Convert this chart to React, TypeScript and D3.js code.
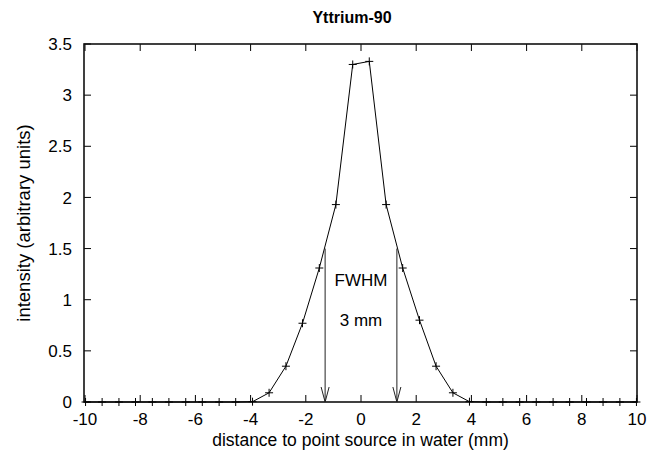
import React, { useEffect, useRef } from 'react';
import * as d3 from 'd3';

// distance (mm) of each sample, intensity (arbitrary units)
const distances = [
  -9.98, -9.38, -8.77, -8.17, -7.56, -6.96, -6.35, -5.75, -5.14, -4.54,
  -3.93, -3.33, -2.72, -2.12, -1.51, -0.91, -0.3,
  0.3, 0.91, 1.51, 2.12, 2.72, 3.33, 3.93,
  4.54, 5.14, 5.75, 6.35, 6.96, 7.56, 8.17, 8.77, 9.38, 9.98,
];
const intensity = [
  0, 0, 0, 0, 0, 0, 0, 0, 0, 0,
  0.003, 0.09, 0.35, 0.77, 1.31, 1.93, 3.3,
  3.33, 1.93, 1.31, 0.8, 0.35, 0.09, 0.003,
  0, 0, 0, 0, 0, 0, 0, 0, 0, 0,
];
const xTicks = [-10, -8, -6, -4, -2, 0, 2, 4, 6, 8, 10];
const yTicks = [0, 0.5, 1, 1.5, 2, 2.5, 3, 3.5];
const fwhmX = [-1.3, 1.3];
const fwhmLevel = 1.5;
const fwhmLabels = ['FWHM', '3 mm'];

const W = 662;
const H = 457;
const FONT = '"Liberation Sans", Arial, Helvetica, sans-serif';

export default function App() {
  const svgRef = useRef<SVGSVGElement>(null);

  useEffect(() => {
    document.body.style.margin = '0';
    const svg = d3.select(svgRef.current);
    svg.selectAll('*').remove();

    const left = 84, right = 637, top = 44, bottom = 402;
    const x = d3.scaleLinear().domain([-10, 10]).range([left + 1, right]);
    const y = d3.scaleLinear().domain([0, 3.5]).range([bottom, top]);
    const tick = 7;

    const g = svg.append('g').attr('font-family', FONT).attr('font-size', 17);

    // ticks (inside, mirrored)
    xTicks.forEach(t => {
      g.append('line').attr('x1', x(t)).attr('x2', x(t)).attr('y1', bottom).attr('y2', bottom - tick).attr('stroke', '#000');
      g.append('line').attr('x1', x(t)).attr('x2', x(t)).attr('y1', top).attr('y2', top + tick).attr('stroke', '#000');
      g.append('text').attr('x', x(t)).attr('y', bottom + 23).attr('text-anchor', 'middle').text(t);
    });
    yTicks.forEach(t => {
      g.append('line').attr('x1', left).attr('x2', left + tick).attr('y1', y(t)).attr('y2', y(t)).attr('stroke', '#000');
      g.append('line').attr('x1', right).attr('x2', right - tick).attr('y1', y(t)).attr('y2', y(t)).attr('stroke', '#000');
      g.append('text').attr('x', left - 12).attr('y', y(t)).attr('dy', '0.36em').attr('text-anchor', 'end').text(t);
    });

    // border
    g.append('rect').attr('x', left).attr('y', top).attr('width', right - left).attr('height', bottom - top)
      .attr('fill', 'none').attr('stroke', '#111').attr('stroke-width', 1.6);

    // curve
    const pts: [number, number][] = distances.map((d, i) => [d, intensity[i]]);
    const line = d3.line<[number, number]>().x(d => x(d[0])).y(d => y(d[1]));
    g.append('path').attr('d', line(pts)).attr('fill', 'none').attr('stroke', '#000').attr('stroke-width', 1);
    const m = 4;
    pts.forEach(p => {
      const cx = x(p[0]), cy = y(p[1]);
      g.append('path').attr('d', `M${cx - m},${cy}H${cx + m}M${cx},${cy - m}V${cy + m}`).attr('stroke', '#000').attr('stroke-width', 1);
    });

    // FWHM arrows
    fwhmX.forEach(v => {
      const ax = x(v), y0 = y(fwhmLevel), y1 = y(0);
      g.append('line').attr('x1', ax).attr('x2', ax).attr('y1', y0).attr('y2', y1).attr('stroke', '#222').attr('stroke-width', 1);
      g.append('path').attr('d', `M${ax - 4},${y1 - 15}L${ax},${y1}L${ax + 4},${y1 - 15}`)
        .attr('fill', 'none').attr('stroke', '#222').attr('stroke-width', 1);
    });
    const mid = x((fwhmX[0] + fwhmX[1]) / 2);
    g.append('text').attr('x', mid).attr('y', 286).attr('text-anchor', 'middle').text(fwhmLabels[0]);
    g.append('text').attr('x', mid).attr('y', 326).attr('text-anchor', 'middle').text(fwhmLabels[1]);

    // titles
    g.append('text').attr('x', 352).attr('y', 23).attr('text-anchor', 'middle').attr('font-weight', 'bold').attr('font-size', 16).text('Yttrium-90');
    g.append('text').attr('x', (left + right) / 2).attr('y', 446).attr('text-anchor', 'middle').attr('font-size', 17.5).text('distance to point source in water (mm)');
    g.append('text').attr('transform', `translate(30,${(top + bottom) / 2}) rotate(-90)`).attr('text-anchor', 'middle').attr('font-size', 18.5).text('intensity (arbitrary units)');
  }, []);

  return <svg ref={svgRef} width={W} height={H} style={{ display: 'block', background: '#fff' }}></svg>;
}
